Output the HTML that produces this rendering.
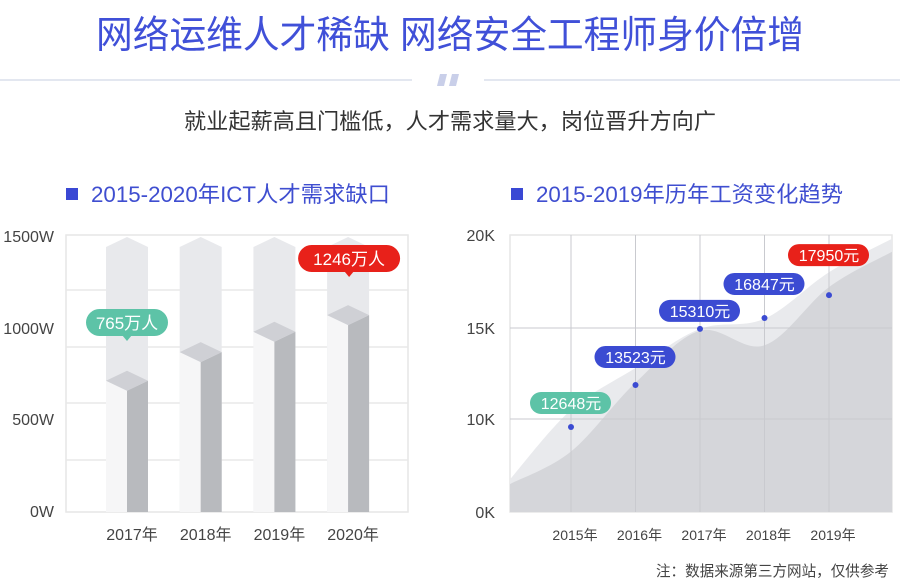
<!DOCTYPE html>
<html><head><meta charset="utf-8">
<style>
html,body{margin:0;padding:0;background:#fff;}
svg{display:block;font-family:"Liberation Sans","Noto Sans CJK SC",sans-serif;}
</style></head>
<body>
<svg id="page" width="900" height="583" viewBox="0 0 900 583">
  <text x="450" y="48" text-anchor="middle" font-size="38" fill="#4050d8" textLength="708" lengthAdjust="spacingAndGlyphs">网络运维人才稀缺 网络安全工程师身价倍增</text>
  <rect x="0" y="79" width="412" height="2" fill="#e3e7f0"/>
  <rect x="484" y="79" width="416" height="2" fill="#e3e7f0"/>
  <g fill="#c9cfe9">
    <polygon points="440,74 447,74 444,86 437,86"/>
    <polygon points="452,74 459,74 456,86 449,86"/>
  </g>
  <text x="450" y="129" text-anchor="middle" font-size="22" fill="#333" textLength="532" lengthAdjust="spacingAndGlyphs">就业起薪高且门槛低，人才需求量大，岗位晋升方向广</text>

  <rect x="66" y="188" width="12" height="12" fill="#3a48d4"/>
  <text x="91" y="202" font-size="22" fill="#3f4ed0" textLength="299" lengthAdjust="spacingAndGlyphs">2015-2020年ICT人才需求缺口</text>
  <rect x="511" y="188" width="12" height="12" fill="#3a48d4"/>
  <text x="536" y="202" font-size="22" fill="#3f4ed0" textLength="307" lengthAdjust="spacingAndGlyphs">2015-2019年历年工资变化趋势</text>

  <g id="left-chart"></g>
  <g id="right-chart"></g>

  <text x="889" y="576" text-anchor="end" font-size="15" fill="#444" textLength="233" lengthAdjust="spacingAndGlyphs">注：数据来源第三方网站，仅供参考</text>
</svg>
<script>
// ---- Left chart data ----
const barCategories = ["2017年","2018年","2019年","2020年"];
const barValues = [765, 920, 1030, 1120];
const barYTicks = [0, 500, 1000, 1500];
const barYTickLabels = ["0W","500W","1000W","1500W"];
const barLabels = ["765万人", null, null, "1246万人"];

// ---- Right chart data ----
const lineCategories = ["2015年","2016年","2017年","2018年","2019年"];
const lineValues = [9140, 11870, 14950, 15540, 16770];
const lineLabels = ["12648元","13523元","15310元","16847元","17950元"];
const lineYTicks = [0, 10000, 15000, 20000];
const lineYTickLabels = ["0K","10K","15K","20K"];
// background decorative areas sampled at [left edge, each category, right edge]
const areaBackValues = [3500, 10500, 12800, 14950, 15500, 18000, 19800];
const areaFrontValues = [3000, 6500, 12000, 14850, 14050, 17200, 19100];

const NS = "http://www.w3.org/2000/svg";
function mk(tag, attrs, parent){const e=document.createElementNS(NS,tag);for(const k in attrs)e.setAttribute(k,attrs[k]);parent.appendChild(e);return e;}

// ===== Left chart =====
(function(){
  const g=document.getElementById('left-chart');
  const L=66,R=408,T=235,B=512;
  const yMax=1500;
  const y=v=>B-(v/yMax)*(B-T);
  const x0=127, step=73.7;
  const xc=i=>x0+i*step;
  mk('rect',{x:L,y:T,width:R-L,height:B-T,fill:'#fff',stroke:'#e6e6e6','stroke-width':1.5},g);
  [290,347,403,460].forEach(yy=>{const l=mk('line',{x1:L,x2:R,y1:yy,y2:yy,stroke:'#e8e8e8','stroke-width':1.5},g);

});
  barYTicks.forEach((t,i)=>{
    const tx=mk('text',{x:54,y:[517,425,334,242][i],'text-anchor':'end','font-size':16,fill:'#444'},g);
    tx.textContent=barYTickLabels[i];
    
    
  });
  const hw=21, cap=10;
  barValues.forEach((v,i)=>{
    const cx=xc(i);
    const bg=mk('polygon',{points:`${cx-hw},${T+12} ${cx},${T+2} ${cx+hw},${T+12} ${cx+hw},${B} ${cx-hw},${B}`,fill:'#e8e9ec'},g);
    
    
    const top=y(v);
    const lf=mk('polygon',{points:`${cx-hw},${top+cap} ${cx},${top+2*cap} ${cx},${B} ${cx-hw},${B}`,fill:'#f6f6f7'},g);
    
    
    const rf=mk('polygon',{points:`${cx},${top+2*cap} ${cx+hw},${top+cap} ${cx+hw},${B} ${cx},${B}`,fill:'#b8babe'},g);
    
    
    const tp=mk('polygon',{points:`${cx-hw},${top+cap} ${cx},${top} ${cx+hw},${top+cap} ${cx},${top+2*cap}`,fill:'#cfd0d5'},g);
    
    
    const lb=mk('text',{x:cx+5,y:540,'text-anchor':'middle','font-size':16,fill:'#444'},g);
    lb.textContent=barCategories[i];
    
    
  });
  const calls=[{i:0,color:'#5dc3a7',w:82,by:309},{i:3,color:'#e8211a',w:102,by:245}];
  calls.forEach(c=>{
    const cx=xc(c.i)+(c.i===3?1:0);
    const gg=mk('g',{},g);
    
    
    const by=c.by;
    mk('rect',{x:cx-c.w/2,y:by,width:c.w,height:27,rx:13.5,fill:c.color},gg);
    mk('polygon',{points:`${cx-5},${by+26} ${cx+5},${by+26} ${cx},${by+32}`,fill:c.color},gg);
    const t=mk('text',{x:cx,y:by+20,'text-anchor':'middle','font-size':17,fill:'#fff'},gg);
    t.textContent=barLabels[c.i];
  });
})();

// ===== Right chart =====
(function(){
  const g=document.getElementById('right-chart');
  const L=510,R=892,T=235,B=512;
  const tickY=[512,419,328,235];
  function y(v){
    for(let k=0;k<lineYTicks.length-1;k++){
      const a=lineYTicks[k],b=lineYTicks[k+1];
      if(v<=b||k===lineYTicks.length-2){return tickY[k]+(v-a)/(b-a)*(tickY[k+1]-tickY[k]);}
    }
  }
  const x0=571, step=64.5;
  const xc=i=>x0+i*step;
  const ax=[L, ...lineCategories.map((c,i)=>xc(i)), R];
  mk('rect',{x:L,y:T,width:R-L,height:B-T,fill:'#fff',stroke:'#e6e6e6','stroke-width':1.5},g);
  function smooth(vals){
    const pts=vals.map((v,i)=>[ax[i],y(v)]);
    let d=`M${pts[0][0]},${pts[0][1]}`;
    for(let i=0;i<pts.length-1;i++){
      const p0=pts[Math.max(0,i-1)],p1=pts[i],p2=pts[i+1],p3=pts[Math.min(pts.length-1,i+2)];
      const c1=[p1[0]+(p2[0]-p0[0])/6,p1[1]+(p2[1]-p0[1])/6];
      const c2=[p2[0]-(p3[0]-p1[0])/6,p2[1]-(p3[1]-p1[1])/6];
      d+=` C${c1[0]},${c1[1]} ${c2[0]},${c2[1]} ${p2[0]},${p2[1]}`;
    }
    return d+` L${R},${B} L${L},${B} Z`;
  }
  const a1=mk('path',{d:smooth(areaBackValues),fill:'#e9eaed'},g);
  
  
  const a2=mk('path',{d:smooth(areaFrontValues),fill:'#d5d6da'},g);
  
  
  tickY.slice(1,3).forEach(yy=>{const l=mk('line',{x1:L,x2:R,y1:yy,y2:yy,stroke:'#c9cacf','stroke-width':1},g);

});
  lineCategories.forEach((c,i)=>{
    const l=mk('line',{x1:xc(i),x2:xc(i),y1:T,y2:B,stroke:'#c9cacf','stroke-width':1},g);
    
    
  });
  lineYTicks.forEach((t,i)=>{
    const tx=mk('text',{x:495,y:tickY[i]+6,'text-anchor':'end','font-size':16,fill:'#444'},g);
    tx.textContent=lineYTickLabels[i];
    
    
  });
  const colors=['#5dc3a7','#3b4bd2','#3b4bd2','#3b4bd2','#e8211a'];
  const offs=[0,-4,6,-10,-16];
  lineValues.forEach((v,i)=>{
    const cx=xc(i), cy=y(v);
    const p=mk('circle',{cx:cx,cy:cy,r:3,fill:'#3b4bd2'},g);
    
    
    const gg=mk('g',{},g);
    
    
    const by=cy-35+offs[i];
    mk('rect',{x:cx-41,y:by,width:81,height:22,rx:11,fill:colors[i]},gg);
    const t=mk('text',{x:cx,y:by+17,'text-anchor':'middle','font-size':16,fill:'#fff'},gg);
    t.textContent=lineLabels[i];
    const lb=mk('text',{x:cx+4,y:540,'text-anchor':'middle','font-size':14,fill:'#444'},g);
    lb.textContent=lineCategories[i];
    
    
  });
})();
</script>
</body></html>
